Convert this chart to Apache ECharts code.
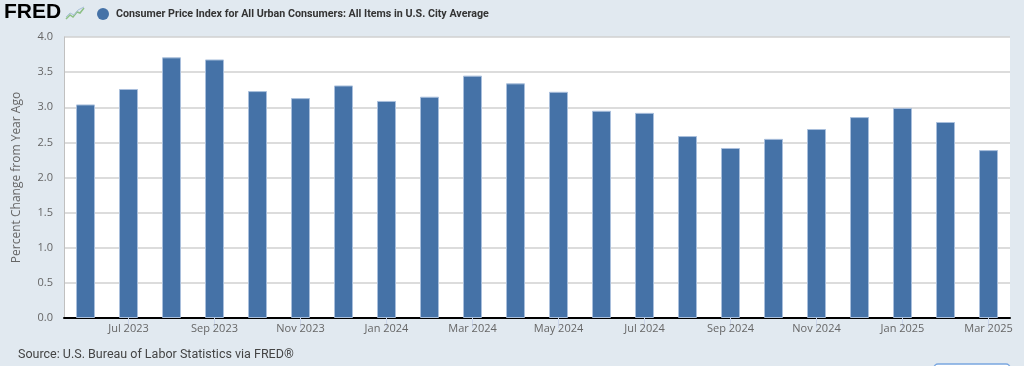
<!DOCTYPE html>
<html>
<head>
<meta charset="utf-8">
<script src="https://cdn.jsdelivr.net/npm/echarts@6/dist/echarts.min.js"></script>
<style>
html,body{margin:0;padding:0;background:#e1e9f0;}
#chart{width:1024px;height:366px;}
</style>
</head>
<body>
<div id="chart"></div>
<script>
const months = ['Jun 2023','Jul 2023','Aug 2023','Sep 2023','Oct 2023','Nov 2023','Dec 2023',
  'Jan 2024','Feb 2024','Mar 2024','Apr 2024','May 2024','Jun 2024','Jul 2024','Aug 2024',
  'Sep 2024','Oct 2024','Nov 2024','Dec 2024','Jan 2025','Feb 2025','Mar 2025'];
const cpiYoY = [3.04,3.26,3.71,3.68,3.23,3.13,3.31,3.09,3.15,3.45,3.34,3.22,2.95,2.92,2.59,
  2.42,2.55,2.69,2.86,2.99,2.79,2.39];
const yTicks = {min:0, max:4, interval:0.5};
const seriesName = 'Consumer Price Index for All Urban Consumers: All Items in U.S. City Average';
const yAxisTitle = 'Percent Change from Year Ago';
const sourceText = 'Source: U.S. Bureau of Labor Statistics via FRED®';

const chart = echarts.init(document.getElementById('chart'), null, {renderer:'canvas'});
const labelShown = (i) => i % 2 === 1;
chart.setOption({
  backgroundColor:'#e1e9f0',
  animation:false,
  grid:{left:64,right:14,top:37,bottom:48,show:true,backgroundColor:'#ffffff',borderWidth:0},
  legend:{
    data:[{name:seriesName,icon:'circle'}],
    left:97, top:8, padding:0, itemWidth:12, itemHeight:12, itemGap:0,
    itemStyle:{borderWidth:0,color:'#4572a7'},
    textStyle:{fontFamily:'Roboto',fontSize:10.7,fontWeight:'bold',color:'#333333',padding:[0,0,0,2]}
  },
  xAxis:{
    type:'category', data:months, boundaryGap:true,
    axisLine:{show:true,lineStyle:{color:'#000000',width:2}},
    axisTick:{show:true,alignWithLabel:true,interval:labelShown,length:10,lineStyle:{color:'#ccd6eb'}},
    axisLabel:{interval:labelShown,margin:5,fontFamily:'Open Sans',fontSize:11,color:'#666666'},
    splitLine:{show:false}
  },
  yAxis:{
    type:'value', min:yTicks.min, max:yTicks.max, interval:yTicks.interval,
    name:yAxisTitle, nameLocation:'middle', nameGap:41, nameRotate:90,
    nameTextStyle:{fontFamily:'Open Sans',fontSize:12,color:'#666666'},
    axisLine:{show:true,lineStyle:{color:'#c0c0c0',width:1}},
    axisTick:{show:false},
    axisLabel:{margin:11,fontFamily:'Open Sans',fontSize:11,color:'#666666',
      padding:[0,0,9,0],formatter:(v)=>v.toFixed(1)},
    splitLine:{show:true,lineStyle:{color:'#d0d0d0',width:1.5}}
  },
  series:[{
    name:seriesName, type:'bar', data:cpiYoY, barWidth:19,
    itemStyle:{color:'#4572a7',borderColor:'#a9bfdc',borderWidth:1},
    emphasis:{disabled:true}
  }],
  graphic:[
    {type:'text',left:4,top:2,style:{text:'FRED',font:'bold 21px "Liberation Sans"',fill:'#000000'}},
    {type:'polyline',shape:{points:[[66,19],[70,15],[73,17],[77,12],[80,13],[84,8]]},
      style:{stroke:'#8cc084',lineWidth:1.5,fill:null}},
    {type:'polyline',shape:{points:[[66,17],[70,13],[74,15],[78,10],[84,7]]},
      style:{stroke:'#a8bfd8',lineWidth:1,fill:null}},
    {type:'text',left:18,top:348,style:{text:sourceText,font:'12.5px Roboto',fill:'#444444'}},
    {type:'rect',shape:{x:934,y:364,width:76,height:20,r:4},
      style:{fill:'#ffffff',stroke:'#7aa7e0',lineWidth:1.5}}
  ]
});
</script>
</body>
</html>
